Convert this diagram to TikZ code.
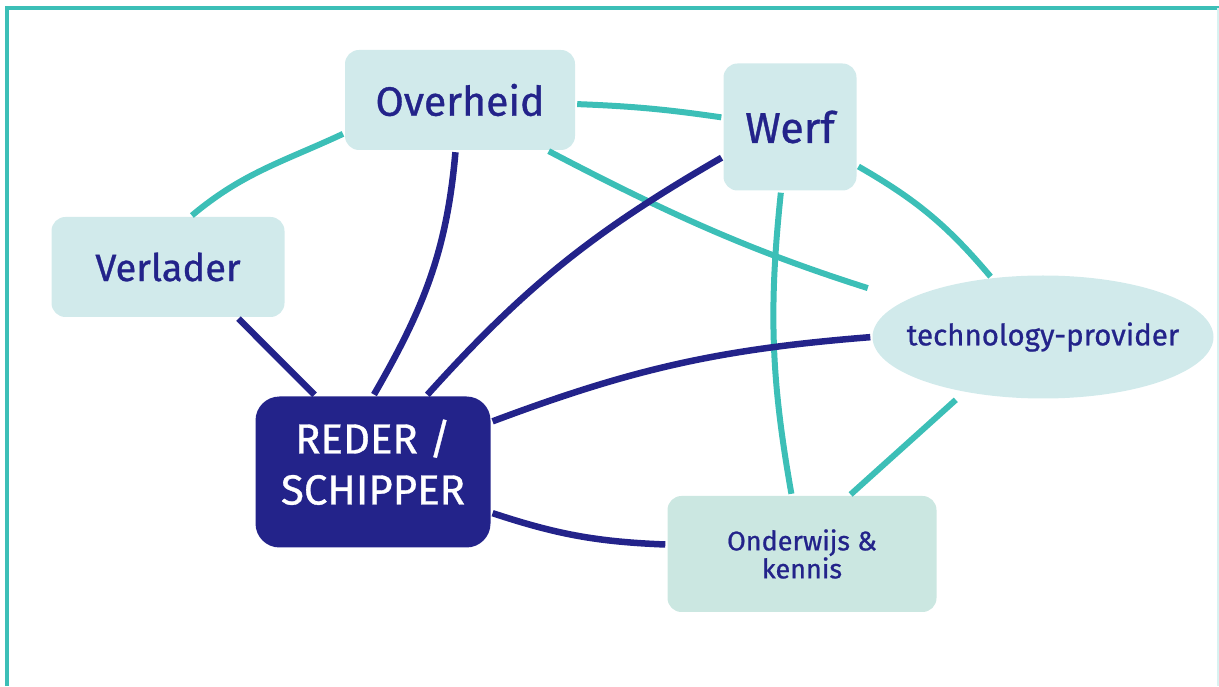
\documentclass[tikz,border=0pt]{standalone}
\usepackage{fontspec}
\setmainfont{Fira Sans}[FakeBold=0.8]
\usetikzlibrary{shapes.geometric}
\definecolor{navyink}{HTML}{23238A}
\definecolor{tealink}{HTML}{3CBFB7}
\definecolor{palebox}{HTML}{D1EAEB}
\definecolor{mintbox}{HTML}{CBE7E1}

\begin{document}
\begin{tikzpicture}[
    x=1pt, y=1pt,
    party/.style={rectangle, rounded corners=14pt, fill=palebox, text=navyink, align=center, inner sep=0pt},
    core/.style={rectangle, rounded corners=24pt, fill=navyink, text=white, align=center, inner sep=0pt, minimum width=235pt, minimum height=151pt, text depth=20pt, font=\fontsize{42}{51}\selectfont},
    provider/.style={ellipse, fill=palebox, text=navyink, inner xsep=-20pt, inner ysep=0pt, minimum width=341pt, minimum height=123pt, font=\fontsize{29.5}{32}\selectfont},
    tealflow/.style={draw=tealink, line width=6pt, shorten <=2pt, shorten >=2pt},
    navyflow/.style={draw=navyink, line width=6.5pt, shorten <=2pt, shorten >=2pt}
]

% Frame
\useasboundingbox (0,0) rectangle (1219,686);
\draw[tealink, line width=4pt] (6.5,0) -- (6.5,677.5) -- (1219,677.5);
\draw[tealink!20, line width=1.5pt] (1218,0) -- (1218,677.5);

% Nodes
\node[party, minimum width=230pt, minimum height=100pt, font=\fontsize{41}{46}\selectfont] (overheid) at (460,586) {Overheid};
\node[party, minimum width=133pt, minimum height=127pt, font=\fontsize{43}{46}\selectfont] (werf) at (790,559) {Werf};
\node[party, minimum width=233pt, minimum height=100pt, font=\fontsize{38}{42}\selectfont] (verlader) at (168,419) {Verlader};
\node[core] (reder) at (373,214) {REDER /\\SCHIPPER};
\node[provider] (provider) at (1043,349) {technology-provider};
\node[party, fill=mintbox, minimum width=269pt, minimum height=116pt, font=\fontsize{27}{28}\selectfont] (kennis) at (802,132) {Onderwijs \&\\kennis};

% Connections - teal
\draw[tealflow] (overheid.196) to[out=205, in=40] (verlader.66);
\draw[tealflow] (overheid.358) to[bend left=3] (werf.172);
\draw[tealflow, shorten >=40pt] (overheid.330) to[bend right=5] (provider.165);
\draw[tealflow] (werf.330) to[bend left=10] (provider.131);
\draw[tealflow] (werf.262) to[bend right=8] (kennis.100);
\draw[tealflow, shorten <=12pt] (provider.215) -- (kennis.51);

% Connections - navy (to the reder)
\draw[navyflow] (verlader.324) -- (reder.127);
\draw[navyflow] (overheid.265) to[out=265, in=60] (reder.90);
\draw[navyflow] (werf.204) to[out=210, in=48] (reder.55);
\draw[navyflow] (provider.180) to[bend right=8] (reder.23);
\draw[navyflow] (reder.341) to[bend right=8] (kennis.176);

\end{tikzpicture}
\end{document}
